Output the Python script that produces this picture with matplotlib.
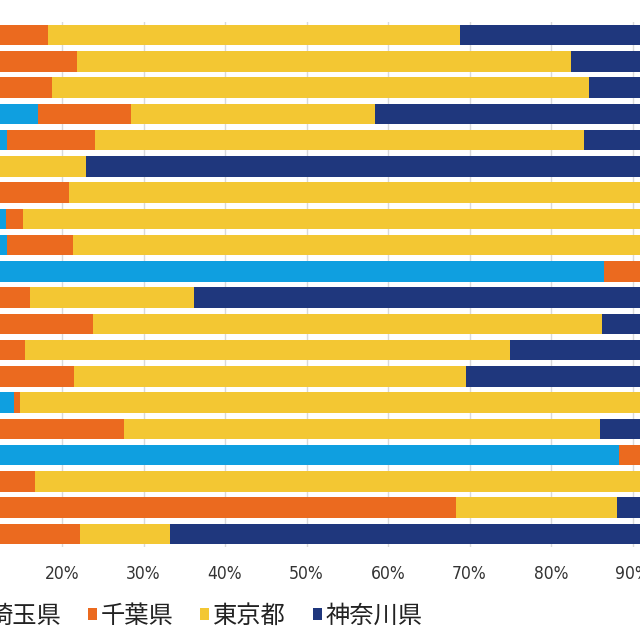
import matplotlib.pyplot as plt
from matplotlib.patches import Patch
import numpy as np

# share of each prefecture per row (%), rows top to bottom
saitama  = [6.0, 5.0, 7.0, 17.0, 13.2, 4.0, 8.0, 13.1, 13.2, 86.5, 7.0, 9.0, 6.0, 8.0, 14.1, 10.0, 88.3, 7.0, 9.0, 8.0]
chiba    = [12.3, 16.9, 11.8, 11.5, 10.8, 6.0, 12.9, 2.1, 8.1, 8.5, 9.1, 14.8, 9.4, 13.5, 0.7, 17.6, 6.7, 9.7, 59.3, 14.2]
tokyo    = [50.5, 60.6, 65.9, 29.9, 60.1, 12.9, 75.1, 78.8, 72.7, 3.0, 20.1, 62.5, 59.6, 48.1, 80.2, 58.4, 3.0, 76.3, 19.8, 11.1]
kanagawa = [31.2, 17.5, 15.3, 41.6, 15.9, 77.1, 4.0, 6.0, 6.0, 2.0, 63.8, 13.7, 25.0, 30.4, 5.0, 14.0, 2.0, 7.0, 11.9, 66.7]

names = ['埼玉県', '千葉県', '東京都', '神奈川県']
colors = ['#0f9fe0', '#eb6a1f', '#f3c733', '#1f377d']
xticks = [0, 10, 20, 30, 40, 50, 60, 70, 80, 90, 100]
xlabels = ['%d%%' % t for t in xticks]

fig = plt.figure(figsize=(6.4, 6.4), dpi=100)
# chart is cropped: axes run past the left and right edges of the picture
ax = fig.add_axes([-101/640, 93/640, 815/640, 525/640])

y = np.arange(len(saitama))
left = np.zeros(len(saitama))
for vals, c in zip([saitama, chiba, tokyo, kanagawa], colors):
    ax.barh(y, vals, left=left, height=0.78, color=c, zorder=3)
    left += np.array(vals)

ax.set_xlim(0, 100)
ax.set_ylim(len(saitama) - 0.5, -0.5)
ax.set_xticks(xticks)
ax.set_xticklabels(xlabels, family=['Liberation Sans Narrow', 'DejaVu Sans'], stretch='condensed',
                   fontsize=12.5, color='#333333')
ax.set_yticks([])
ax.tick_params(axis='x', length=0, pad=13)
ax.grid(axis='x', color='#d9d9d9', linewidth=1, zorder=0)
for s in ax.spines.values():
    s.set_visible(False)

handles = [Patch(facecolor=c, edgecolor='none') for c in colors]
fig.legend(handles, names, loc='center', bbox_to_anchor=(199/640, 24/640), ncol=4, frameon=False,
           prop={'family': 'Noto Sans CJK JP', 'size': 17.5}, handlelength=0.38, handleheight=0.38,
           handletextpad=0.15, columnspacing=1.1, labelcolor='#222222')

plt.savefig('out.png', dpi=100)
